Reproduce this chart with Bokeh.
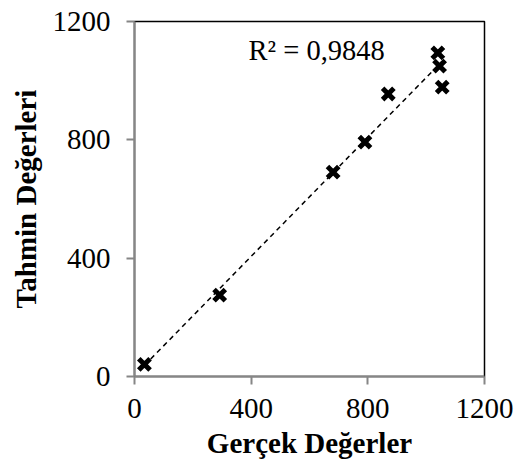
import numpy as np
from bokeh.plotting import figure
from bokeh.models import Range1d, FixedTicker, Label
from bokeh.embed import file_html
from bokeh.resources import INLINE

# Data
actual = [34, 292, 681, 790, 870, 1040, 1046, 1055]
predicted = [41, 275, 691, 792, 955, 1094, 1049, 978]
ticks = [0, 400, 800, 1200]
r2_text = "R\u00b2 = 0,9848"
x_title = "Gerçek Değerler"
y_title = "Tahmin Değerleri"

FONT = "'Liberation Serif', 'Times New Roman', serif"

p = figure(width=516, height=461, output_backend="svg", toolbar_location=None,
           x_range=Range1d(0, 1200), y_range=Range1d(0, 1200),
           min_border_left=134, min_border_right=32, min_border_top=21, min_border_bottom=85)

p.background_fill_color = "white"
p.border_fill_color = "white"
p.outline_line_color = "black"
p.outline_line_width = 1.5
p.xgrid.visible = False
p.ygrid.visible = False

for ax in (p.xaxis, p.yaxis):
    ax.ticker = FixedTicker(ticks=ticks)
    ax.minor_tick_line_color = None
    ax.axis_line_color = "#868686"
    ax.axis_line_width = 2
    ax.major_tick_line_color = "#868686"
    ax.major_tick_line_width = 2
    ax.major_tick_in = 0
    ax.major_tick_out = 8
    ax.major_label_text_font = FONT
    ax.major_label_text_font_size = "29px"
    ax.major_label_text_color = "black"
    ax.axis_label_text_font = FONT
    ax.axis_label_text_font_size = "29px"
    ax.axis_label_text_font_style = "bold"
    ax.axis_label_text_color = "black"

p.xaxis.axis_label = x_title
p.yaxis.axis_label = y_title
p.xaxis.major_label_standoff = 14
p.yaxis.major_label_standoff = 16
p.xaxis.axis_label_standoff = 6
p.yaxis.axis_label_standoff = 8

# Linear trend line computed from the data
xa = np.array(actual, dtype=float)
ya = np.array(predicted, dtype=float)
m, b = np.polyfit(xa, ya, 1)
tx = np.array([xa.min(), xa.max()])
p.line(tx, m * tx + b, line_color="black", line_width=1.5, line_dash="5 4")

p.scatter(actual, predicted, marker="x", size=16, line_color="black", line_width=5)

p.add_layout(Label(x=391, y=1103, text=r2_text, text_font=FONT, text_font_size="28.5px",
                   text_color="black", text_baseline="middle"))

open("out.html", "w").write(file_html(p, INLINE))
